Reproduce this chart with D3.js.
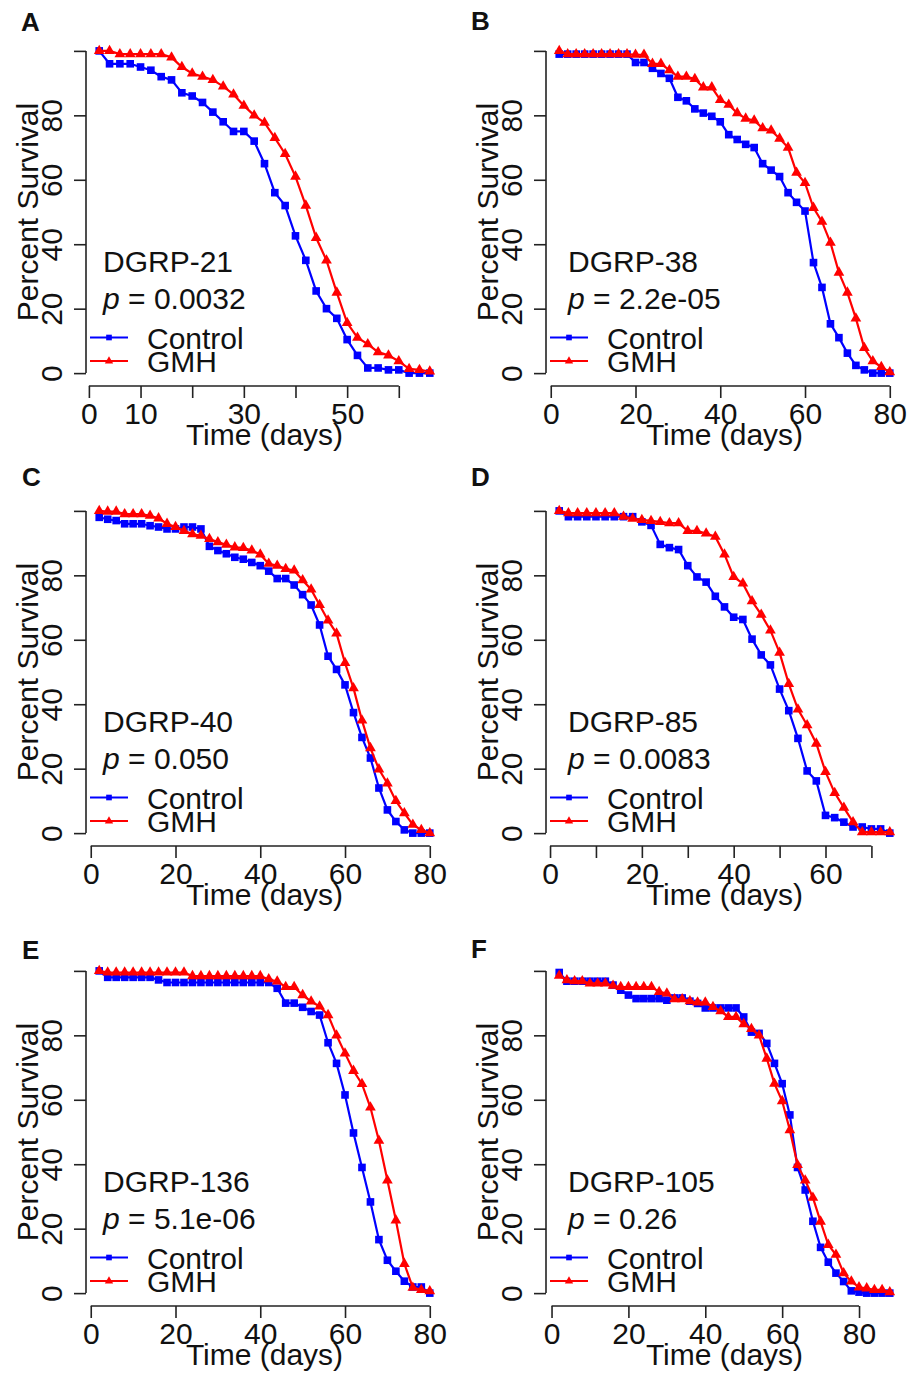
<!DOCTYPE html>
<html lang="en">
<head>
<meta charset="UTF-8">
<title>Survival curves, Control vs GMH</title>
<script src="https://d3js.org/d3.v7.min.js"></script>
<style>
  body { margin: 0; background: #fff; }
  svg text { font-family: "Liberation Sans", Arial, Helvetica, sans-serif; fill: #111; }
  .axis path, .axis line { stroke: #222; stroke-width: 1.6; }
  .axis text { font-size: 30px; }
</style>
</head>
<body>
<div id="chart"></div>
<script>
// sampling days (every 2 days)
const days = [2,4,6,8,10,12,14,16,18,20,22,24,26,28,30,32,34,36,38,40,42,44,
              46,48,50,52,54,56,58,60,62,64,66,68,70,72,74,76,78,80,82,84,86,88];

const letters = ["A", "B", "C", "D", "E", "F"];
const strains = ["DGRP-21", "DGRP-38", "DGRP-40", "DGRP-85", "DGRP-136", "DGRP-105"];
const pValues = ["0.0032", "2.2e-05", "0.050", "0.0083", "5.1e-06", "0.26"];
const groups = ["Control", "GMH"];

// percent survival
const controlA = [100,96,96,96,95,94,92,91,87,86,84,81,78,75,75,72,65,56,52,42.6,35,25.5,20,17,10.4,5.5,1.6,1.6,1,1,0,0,0];
const gmhA = [100,100,99,99,99,99,99,98,95,93,92,91,89,86.5,83,80,77.7,73,68,61,52,42,35,25,15.6,11,9,6.5,5.5,3.7,1.3,1,0.5];

const controlB = [99,99,99,99,99,99,99,99,99,96.4,96.4,94.6,93,91.5,85.6,84.5,82,80.7,79.7,78,74,72.5,71,70,65,63,61,56,53,50.3,34.3,26.6,15.3,11,6.2,2.4,1,0,0,0];
const gmhB = [100,99,99,99,99,99,99,99,99,98.8,98.8,96,96,94,92,92,91.3,88.7,88.7,84.8,83.3,80.7,79,78.4,76,75.3,72.8,70,62.2,59,51.3,47,40.5,31.2,25,17,7.8,3.7,1.9,0.3];

const controlC = [98,97.4,97,96,96,96,95.4,95,94.4,94.4,95,95,94.4,89,87.7,86.7,85.6,85,84,83,81.3,79,79,77,74,70.8,64.6,54.9,50.8,46,37.4,29.7,23.3,14,7.2,3.6,1,0,0,0];
const gmhC = [100,99.8,99.8,99,99,99,98.5,97.7,96,95,93.8,92.8,92.3,91.3,90.3,89.5,88.7,88.5,87.7,86.5,83.6,83,82,81.5,78.5,75.6,70.8,66,62,52.8,45,35,26.4,19.8,15.4,10,6.2,2.6,1,0];

const controlD = [100,98.2,98.2,98.2,98.2,98.2,98.2,98.2,98.2,96.6,95.5,89.6,88.6,88,83,79.5,77.9,73.5,70.2,67,66.3,60.2,55.3,52.2,44.7,38,29.4,19.3,16.2,5.5,4.8,3.4,1.9,1.9,1.3,1.3,0];
const gmhD = [100,99.3,99.3,99.3,99.3,99.3,99.3,98.2,97.6,97.2,96.9,96.6,96.2,96.2,93.8,93.8,93,92,86.5,79.5,77.5,72,67.8,62.9,56,46.3,38.4,33.5,27.8,19,12.5,7.9,3.4,0.3,0.3,0.3,0.3];

const controlE = [100,98,98,98,98,98,98,97.2,96.4,96.4,96.4,96.4,96.4,96.4,96.4,96.4,96.4,96.4,96.4,96.4,96.4,94.6,90,90,88.7,87.4,86.3,77.7,71.3,61.5,49.7,39,28.3,16.6,10.2,6.8,3.7,1.9,1.9,0];
const gmhE = [100,99.5,99.5,99.5,99.5,99.5,99.5,99.5,99.5,99.5,99.5,98.4,98.4,98.4,98.4,98.4,98.4,98.4,98.4,98.4,97.4,96.7,95,95,92.5,90.5,89,86.3,80,74.4,69,64.9,57.6,47.3,35,22.6,9.1,1.7,1,0.6];

const controlF = [99.5,96.8,96.8,96.8,96.8,96.8,96.8,95.6,94,92.5,91.4,91.4,91.4,91.4,90.9,91.6,91.6,90.6,89.9,88.5,88.5,88.5,88.5,88.5,85.7,81,80.6,77.5,71.3,65,55.3,39,32,22.3,14.2,9.6,6.2,3.6,0.7,0.3,0,0,0,0];
const gmhF = [98.5,97.1,96.8,96.8,96.1,96.1,96.1,95.4,95,95,95,95,95,93.5,93,91.2,91.2,90.6,90.2,90.2,88.8,87.5,85.7,85.7,83.5,82,80,72.8,65,59.6,50.6,39.8,35,29.6,22.2,15,11.9,6.2,3.6,1.8,1.5,1,1,0.3];

const controlSeries = [controlA, controlB, controlC, controlD, controlE, controlF];
const gmhSeries = [gmhA, gmhB, gmhC, gmhD, gmhE, gmhF];

// axis ticks; labels that R dropped are left blank
const xTicks = [[0,10,20,30,40,50,60], [0,20,40,60,80], [0,20,40,60,80],
                [0,10,20,30,40,50,60,70], [0,20,40,60,80], [0,20,40,60,80]];
const xTickLabels = [[0,10,30,50], [0,20,40,60,80], [0,20,40,60,80],
                     [0,20,40,60], [0,20,40,60,80], [0,20,40,60,80]];
const yTicks = [0,20,40,60,80,100];
const yTickLabels = [0,20,40,60,80];

const colors = {Control: "#0000ff", GMH: "#ff0000"};

const W = 911, H = 1373;
const plot = {left: 86, top: 38, width: 357, height: 348};
const letterPos = [[21,31],[471,30],[22,486],[471,486],[22,959],[471,958]];
const textX = [103, 108];   // strain / p label start, per column

const svg = d3.select("#chart").append("svg")
    .attr("width", W)
    .attr("height", H);
svg.append("rect").attr("width", W).attr("height", H).attr("fill", "#fff");

const square = d3.symbol().type(d3.symbolSquare).size(58);
const triangle = d3.symbol().type(d3.symbolTriangle).size(50);
const squareSmall = d3.symbol().type(d3.symbolSquare).size(32);
const triangleSmall = d3.symbol().type(d3.symbolTriangle).size(30);

letters.forEach(function(letter, i) {
    const col = i % 2, row = Math.floor(i / 2);
    const g = svg.append("g")
        .attr("transform", "translate(" + (col * 460) + "," + (row * 460) + ")");

    const ctrl = controlSeries[i], gmh = gmhSeries[i];
    const n = Math.max(ctrl.length, gmh.length);
    const dmin = days[0], dmax = days[n - 1];
    const pad = (dmax - dmin) * 0.04;   // R style axis padding

    const x = d3.scaleLinear()
        .domain([dmin - pad, dmax + pad])
        .range([plot.left, plot.left + plot.width]);
    const y = d3.scaleLinear()
        .domain([-4, 104])
        .range([plot.top + plot.height, plot.top]);

    // x axis
    const xt = xTicks[i];
    const xAxis = g.append("g")
        .attr("class", "axis")
        .attr("transform", "translate(0," + (plot.top + plot.height) + ")")
        .call(d3.axisBottom(x).tickValues(xt).tickSize(12).tickPadding(4)
            .tickFormat(d => xTickLabels[i].includes(d) ? d : ""));
    xAxis.select(".domain")
        .attr("d", "M" + x(xt[0]) + ",0H" + x(xt[xt.length - 1]));
    xAxis.selectAll("text").attr("dy", "0.74em").attr("fill", "#111");

    // y axis, labels parallel to the axis
    const yAxis = g.append("g")
        .attr("class", "axis")
        .attr("transform", "translate(" + plot.left + ",0)")
        .call(d3.axisLeft(y).tickValues(yTicks).tickSize(12)
            .tickFormat(d => yTickLabels.includes(d) ? d : ""));
    yAxis.select(".domain")
        .attr("d", "M0," + y(0) + "V" + y(100));
    yAxis.selectAll(".tick text")
        .attr("transform", "rotate(-90)")
        .attr("x", 0)
        .attr("y", -24)
        .attr("dy", 0)
        .attr("text-anchor", "middle")
        .attr("fill", "#111");

    // axis titles
    g.append("text")
        .attr("x", plot.left + plot.width / 2)
        .attr("y", 445)
        .attr("text-anchor", "middle")
        .style("font-size", "30px")
        .text("Time (days)");
    g.append("text")
        .attr("transform", "translate(38," + (plot.top + plot.height / 2) + ") rotate(-90)")
        .attr("text-anchor", "middle")
        .style("font-size", "30px")
        .text("Percent Survival");

    // curves
    [["Control", ctrl, square], ["GMH", gmh, triangle]].forEach(function(s) {
        const pts = s[1].map((v, k) => [days[k], v]);
        g.append("path")
            .datum(pts)
            .attr("fill", "none")
            .attr("stroke", colors[s[0]])
            .attr("stroke-width", 2.2)
            .attr("d", d3.line().x(d => x(d[0])).y(d => y(d[1])));
        g.selectAll(null)
            .data(pts)
            .enter().append("path")
            .attr("transform", d => "translate(" + x(d[0]) + "," + y(d[1]) + ")")
            .attr("d", s[2])
            .attr("fill", colors[s[0]]);
    });

    // strain name and p value
    const tx = textX[col];
    g.append("text")
        .attr("x", tx).attr("y", 272)
        .style("font-size", "30px")
        .text(strains[i]);
    const pt = g.append("text")
        .attr("x", tx).attr("y", 309)
        .style("font-size", "30px");
    pt.append("tspan").style("font-style", "italic").text("p");
    pt.append("tspan").text(" = " + pValues[i]);

    // legend
    const legY = [337.5, 361];
    groups.forEach(function(name, k) {
        const ly = legY[k];
        g.append("line")
            .attr("x1", 90).attr("x2", 128)
            .attr("y1", ly).attr("y2", ly)
            .attr("stroke", colors[name])
            .attr("stroke-width", 1.8);
        g.append("path")
            .attr("transform", "translate(109," + ly + ")")
            .attr("d", k === 0 ? squareSmall : triangleSmall)
            .attr("fill", colors[name]);
        g.append("text")
            .attr("x", 147).attr("y", ly + 11)
            .style("font-size", "30px")
            .text(name);
    });

    // panel letter
    svg.append("text")
        .attr("x", letterPos[i][0]).attr("y", letterPos[i][1])
        .style("font-size", "26px")
        .style("font-weight", "bold")
        .text(letter);
});
</script>
</body>
</html>
